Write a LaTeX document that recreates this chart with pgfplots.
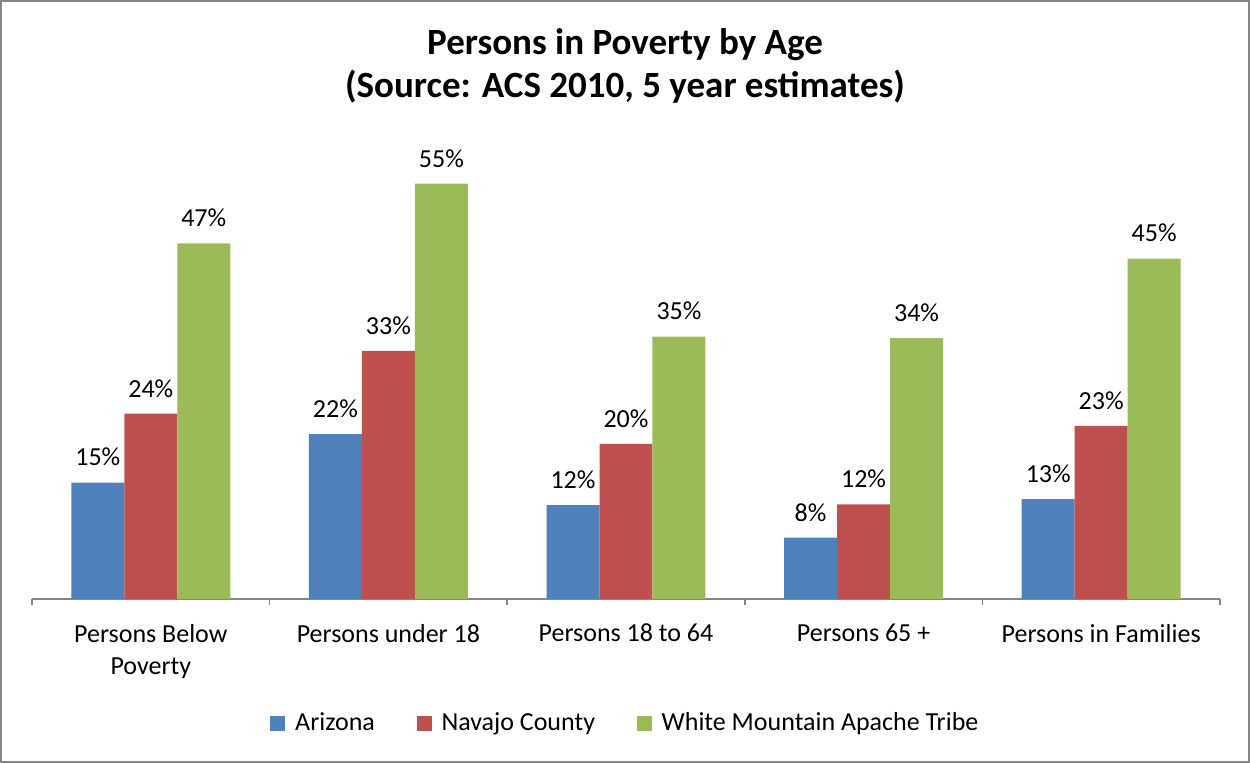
\documentclass[border=0pt]{standalone}
\usepackage{pgfplots}
\pgfplotsset{compat=1.18}
\usepackage{fontspec}
\setmainfont{Carlito}

\definecolor{azblue}{RGB}{79,129,189}
\definecolor{navred}{RGB}{192,80,77}
\definecolor{apgreen}{RGB}{155,187,89}
\definecolor{framegray}{RGB}{134,134,134}

\newcommand{\lbl}{\fontsize{15.6}{19.2}\selectfont}

\begin{document}
\begin{tikzpicture}
% outer frame of the chart (1250 x 763 px at 0.6pt per px)
\draw[framegray, line width=1.2pt] (0.6pt,0.6pt) rectangle (749.4pt,457.2pt);
\path[use as bounding box] (0,0) rectangle (750pt,457.8pt);

\node[font=\fontsize{22.2}{25.8}\selectfont\bfseries, align=center, inner sep=0pt]
  at (375pt,418pt) {Persons in Poverty by Age\\(Source: ACS 2010, 5 year estimates)};

\begin{axis}[
  at={(19.2pt,98.4pt)}, anchor=south west,
  scale only axis,
  width=712.8pt, height=272.3pt,
  xmin=-0.5, xmax=4.5, ymin=0, ymax=60,
  axis x line*=bottom, axis y line=none,
  x axis line style={framegray, line width=0.9pt},
  xtick={0,1,2,3,4},
  xticklabels={{Persons Below\\Poverty},{Persons under 18},{Persons 18 to 64},{Persons 65 +},{Persons in Families}},
  xticklabel style={font=\lbl, align=center, anchor=north, inner sep=0pt, yshift=-14.8pt},
  major tick length=0pt,
  minor xtick={-0.5,0.5,1.5,2.5,3.5,4.5},
  minor tick length=3.6pt,
  tick align=outside,
  minor tick style={framegray, line width=0.9pt},
  ytick=\empty,
  clip=false,
  ybar, bar width=0.223,
  point meta=explicit symbolic,
  nodes near coords={\pgfplotspointmeta\%},
  every node near coord/.append style={font=\lbl, anchor=base, inner sep=0pt, yshift=10pt, text=black},
  legend columns=3,
  legend style={at={(0.5,0)}, anchor=center, yshift=-74.5pt, draw=none, fill=none, font=\lbl,
    /tikz/every odd column/.append style={column sep=4pt},
    /tikz/every even column/.append style={column sep=23pt}},
  legend image code/.code={\fill[#1, draw=none] (0pt,-4.5pt) rectangle (9pt,4.5pt);},
]
\addplot[fill=azblue, draw=none, bar shift=-0.223] coordinates {
  (0,15.4) [15] (1,21.8) [22] (2,12.4) [12] (3,8.1) [8] (4,13.2) [13]};
\addplot[fill=navred, draw=none, bar shift=0] coordinates {
  (0,24.5) [24] (1,32.8) [33] (2,20.5) [20] (3,12.5) [12] (4,22.9) [23]};
\addplot[fill=apgreen, draw=none, bar shift=0.223] coordinates {
  (0,47.0) [47] (1,54.9) [55] (2,34.7) [35] (3,34.5) [34] (4,45.0) [45]};
\legend{Arizona, Navajo County, White Mountain Apache Tribe}
\end{axis}
\end{tikzpicture}
\end{document}
